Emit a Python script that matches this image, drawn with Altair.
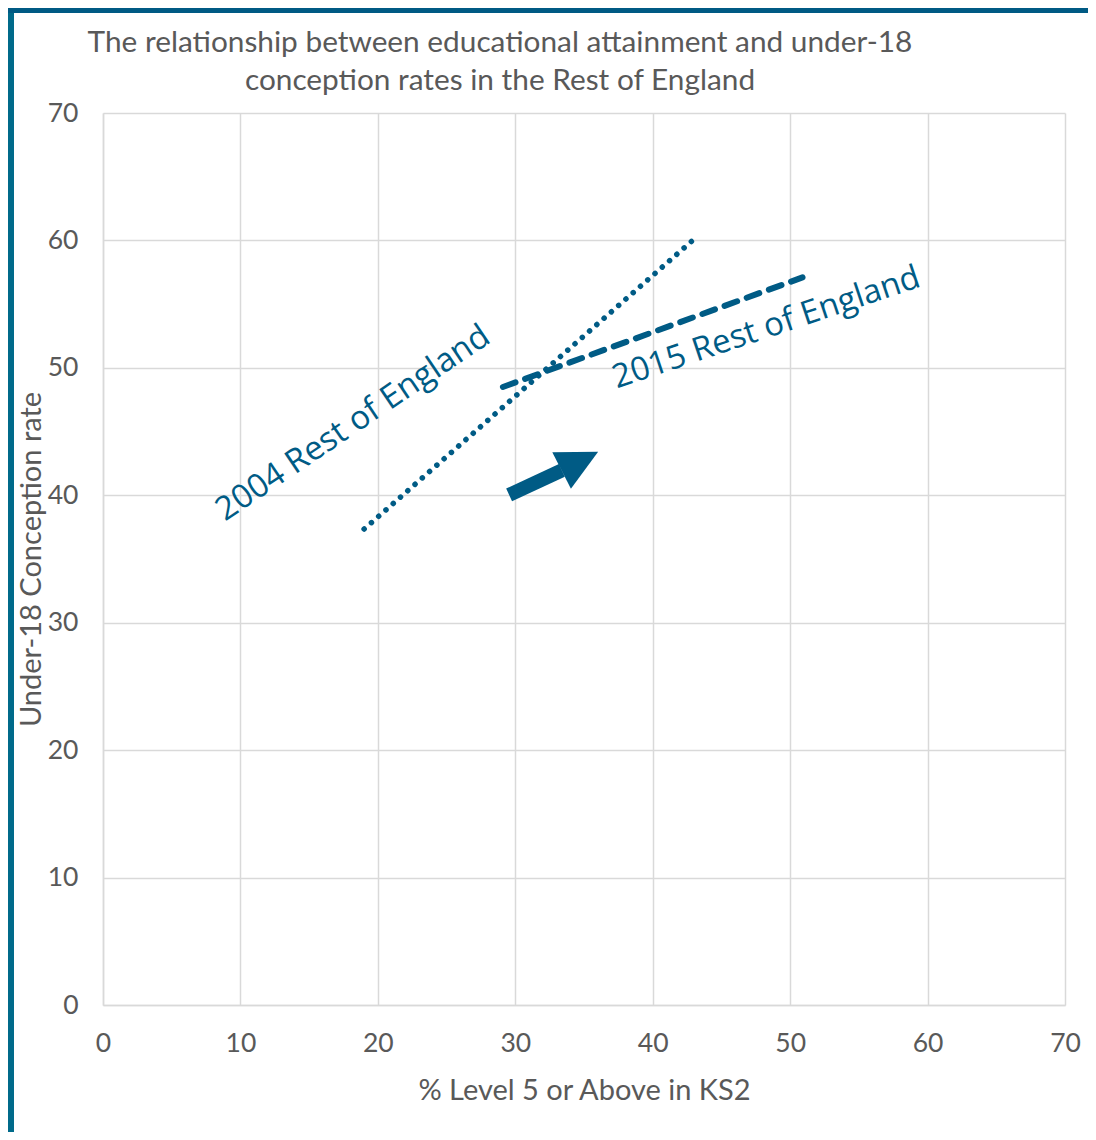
import altair as alt
import pandas as pd

# ---- data ----
series_names = ["2004 Rest of England", "2015 Rest of England"]
line_2004_x = [19.0, 42.85]
line_2004_y = [37.35, 59.95]
line_2015_x = [29.1, 50.9]
line_2015_y = [48.5, 57.1]

label_text = ["2004 Rest of England", "2015 Rest of England"]
label_x = [18.6, 48.5]
label_y = [45.0, 52.4]
label_angle = [326, 341.5]

arrow_shaft_x = [29.55, 33.39]
arrow_shaft_y = [40.03, 41.95]
arrow_head_x = [34.7]
arrow_head_y = [42.68]

tick_values = [0, 10, 20, 30, 40, 50, 60, 70]

title_lines = ["The relationship between educational attainment and under-18",
               "conception rates in the Rest of England"]

COLOR = "#005B85"
GRAY = "#595959"

x_scale = alt.Scale(domain=[0, 70], nice=False, zero=True)
y_scale = alt.Scale(domain=[0, 70], nice=False, zero=True)

df04 = pd.DataFrame({"x": line_2004_x, "y": line_2004_y, "s": series_names[0]})
df15 = pd.DataFrame({"x": line_2015_x, "y": line_2015_y, "s": series_names[1]})
dflab = pd.DataFrame({"x": label_x, "y": label_y, "t": label_text, "a": label_angle})
dfshaft = pd.DataFrame({"x": arrow_shaft_x, "y": arrow_shaft_y})
dfhead = pd.DataFrame({"x": arrow_head_x, "y": arrow_head_y})

xenc = alt.X("x:Q", scale=x_scale,
             axis=alt.Axis(values=tick_values, title="% Level 5 or Above in KS2"))
yenc = alt.Y("y:Q", scale=y_scale,
             axis=alt.Axis(values=tick_values, title="Under-18 Conception rate"))

line04 = alt.Chart(df04).mark_line(
    color=COLOR, strokeWidth=5.5, strokeDash=[0.1, 9.58], strokeCap="round"
).encode(x=xenc, y=yenc)

line15 = alt.Chart(df15).mark_line(
    color=COLOR, strokeWidth=6, strokeDash=[13.4, 10.2], strokeCap="round"
).encode(x="x:Q", y="y:Q")

labels = alt.Chart(dflab).mark_text(
    font="Open Sans", fontSize=33, color=COLOR,
    align="center", baseline="alphabetic"
).encode(x="x:Q", y="y:Q", text="t:N", angle=alt.Angle("a:Q", scale=None))

shaft = alt.Chart(dfshaft).mark_line(
    color=COLOR, strokeWidth=14, strokeCap="butt"
).encode(x="x:Q", y="y:Q")

head = alt.Chart(dfhead).mark_point(
    shape="M0,-1L1,1L-1,1Z", size=1681, angle=63, filled=True, opacity=1,
    color=COLOR, strokeWidth=0
).encode(x="x:Q", y="y:Q")

border_df = pd.DataFrame({"k": [0]})
title_mark = alt.Chart(border_df).mark_text(
    text=title_lines, font="Lato", fontSize=29.8, color=GRAY, lineHeight=38,
    align="center", baseline="alphabetic"
).encode(x=alt.value(397), y=alt.value(-61))

left_band = alt.Chart(border_df).mark_rect(color="#006A8A").encode(
    x=alt.value(-95), x2=alt.value(-89), y=alt.value(-105), y2=alt.value(1019))
top_band = alt.Chart(border_df).mark_rect(color="#005A84").encode(
    x=alt.value(-95), x2=alt.value(985), y=alt.value(-105), y2=alt.value(-100))

chart = alt.layer(line04, line15, shaft, head, labels, title_mark,
                  left_band, top_band).properties(
    width=962, height=892,
    background="white",
    autosize=alt.AutoSizeParams(type="none"),
    padding={"left": 95, "top": 105, "right": 23, "bottom": 127},
).configure_view(stroke=None).configure_axis(
    grid=True, gridColor="#d9d9d9", gridWidth=1.5,
    domainColor="#d9d9d9", domainWidth=1.5, ticks=False, labelFlush=False,
    labelFont="Lato", labelFontSize=26.5, labelColor=GRAY,
    titleFont="Lato", titleFontSize=29, titleColor=GRAY, titleFontWeight="normal",
).configure_axisY(labelPadding=25, titlePadding=1).configure_axisX(
    labelPadding=25, titlePadding=20
)

chart.save("out.html", embed_options={"renderer": "svg", "actions": False})
